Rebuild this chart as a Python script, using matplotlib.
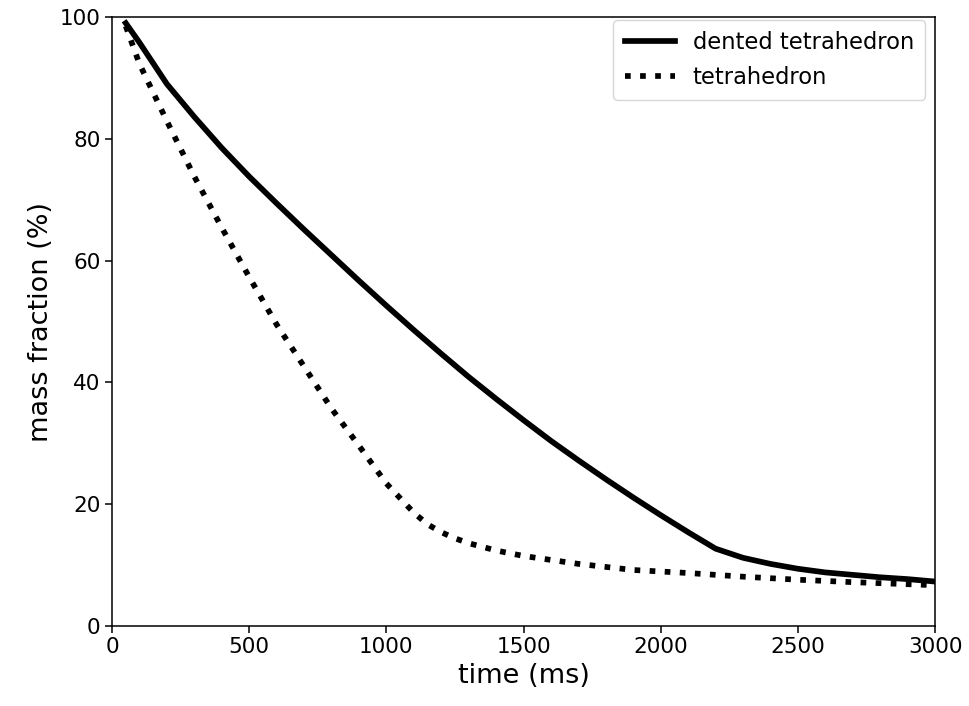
import numpy as np
import matplotlib
matplotlib.use("Agg")
import matplotlib.pyplot as plt

# mass fraction over time for the two shapes
time_dented = [50, 100, 200, 300, 400, 500, 600, 700, 800, 900, 1000, 1100, 1200,
               1300, 1400, 1500, 1600, 1700, 1800, 1900, 2000, 2100, 2200,
               2300, 2400, 2500, 2600, 2700, 2800, 2900, 3000]
mass_dented = [99.0, 95.8, 89.0, 83.6, 78.5, 73.8, 69.4, 65.1, 60.9, 56.7, 52.6, 48.6, 44.7,
               40.9, 37.3, 33.8, 30.4, 27.2, 24.1, 21.1, 18.2, 15.4, 12.7,
               11.2, 10.2, 9.4, 8.8, 8.4, 8.0, 7.7, 7.3]

time_tetra = [50, 100, 200, 300, 400, 500, 600, 700, 800, 900, 1000, 1050, 1100, 1150,
              1200, 1250, 1300, 1400, 1500, 1700, 1900, 2100, 2300, 2500, 2700, 3000]
mass_tetra = [98.5, 92.3, 82.9, 73.8, 65.4, 57.3, 49.5, 42.6, 35.7, 29.6, 23.4, 21.0, 18.6, 16.7,
              15.4, 14.4, 13.6, 12.4, 11.5, 10.2, 9.2, 8.7, 8.1, 7.6, 7.2, 6.7]

fig = plt.figure(figsize=(9.7, 7.06), dpi=100)
ax = fig.add_axes([0.1155, 0.1133, 0.8485, 0.8626])

ax.plot(time_dented, mass_dented, color="black", linewidth=4.1, label="dented tetrahedron")
ax.plot(time_tetra, mass_tetra, color="black", linewidth=4.1, linestyle=":", label="tetrahedron")

ax.set_xlim(0, 3000)
ax.set_ylim(0, 100)
ax.set_xticks([0, 500, 1000, 1500, 2000, 2500, 3000])
ax.set_yticks([0, 20, 40, 60, 80, 100])
ax.tick_params(labelsize=15.5, length=4.7, width=1.1)
for s in ax.spines.values():
    s.set_linewidth(1.1)

ax.set_xlabel("time (ms)", fontsize=19.5)
ax.set_ylabel("mass fraction (%)", fontsize=19.5)
ax.legend(loc="upper right", bbox_to_anchor=(0.988, 0.995), borderaxespad=0,
          fontsize=16.3, handlelength=2.2, borderpad=0.5)

fig.savefig("out.png", dpi=100)
